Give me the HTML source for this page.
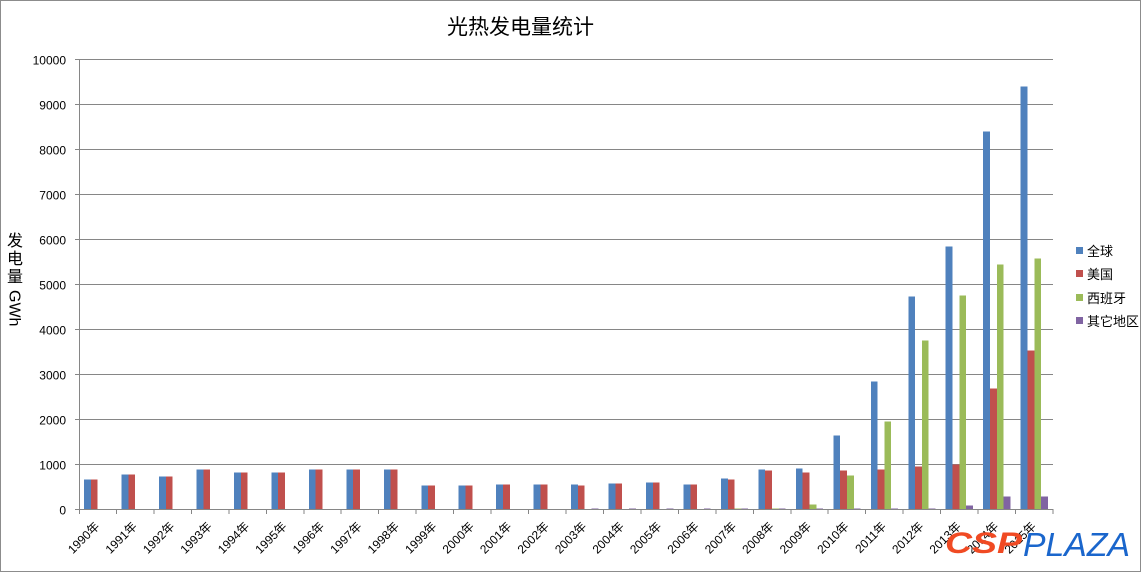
<!DOCTYPE html>
<html><head><meta charset="utf-8"><style>
html,body{margin:0;padding:0;background:#fff;}
svg{display:block;}
text{font-family:"Liberation Sans","Noto Sans CJK SC",sans-serif;fill:#000;}
</style></head><body>
<svg width="1142" height="573" viewBox="0 0 1142 573" xmlns="http://www.w3.org/2000/svg">
<rect x="0" y="0" width="1142" height="573" fill="#fff"/>
<rect x="0.5" y="0.5" width="1140" height="571" fill="none" stroke="#8c8c8c" stroke-width="1"/>
<text x="520.5" y="34" text-anchor="middle" font-size="21">光热发电量统计</text>
<!-- gridlines -->
<g stroke="#868686" stroke-width="1" shape-rendering="crispEdges">
<line x1="75" y1="59.5" x2="1053" y2="59.5"/>
<line x1="75" y1="104.5" x2="1053" y2="104.5"/>
<line x1="75" y1="149.5" x2="1053" y2="149.5"/>
<line x1="75" y1="194.5" x2="1053" y2="194.5"/>
<line x1="75" y1="239.5" x2="1053" y2="239.5"/>
<line x1="75" y1="284.5" x2="1053" y2="284.5"/>
<line x1="75" y1="329.5" x2="1053" y2="329.5"/>
<line x1="75" y1="374.5" x2="1053" y2="374.5"/>
<line x1="75" y1="419.5" x2="1053" y2="419.5"/>
<line x1="75" y1="464.5" x2="1053" y2="464.5"/>
</g>
<!-- bars -->
<g transform="translate(79,509.5) scale(1,-0.045)" shape-rendering="crispEdges">
<g transform="translate(0,0)"><rect x="5.11" y="0" width="6.81" height="667" fill="#4F81BD"/><rect x="11.92" y="0" width="6.81" height="667" fill="#C0504D"/></g>
<g transform="translate(37.4615,0)"><rect x="5.11" y="0" width="6.81" height="778" fill="#4F81BD"/><rect x="11.92" y="0" width="6.81" height="778" fill="#C0504D"/></g>
<g transform="translate(74.923,0)"><rect x="5.11" y="0" width="6.81" height="733" fill="#4F81BD"/><rect x="11.92" y="0" width="6.81" height="733" fill="#C0504D"/></g>
<g transform="translate(112.385,0)"><rect x="5.11" y="0" width="6.81" height="889" fill="#4F81BD"/><rect x="11.92" y="0" width="6.81" height="889" fill="#C0504D"/></g>
<g transform="translate(149.846,0)"><rect x="5.11" y="0" width="6.81" height="822" fill="#4F81BD"/><rect x="11.92" y="0" width="6.81" height="822" fill="#C0504D"/></g>
<g transform="translate(187.308,0)"><rect x="5.11" y="0" width="6.81" height="822" fill="#4F81BD"/><rect x="11.92" y="0" width="6.81" height="822" fill="#C0504D"/></g>
<g transform="translate(224.769,0)"><rect x="5.11" y="0" width="6.81" height="889" fill="#4F81BD"/><rect x="11.92" y="0" width="6.81" height="889" fill="#C0504D"/></g>
<g transform="translate(262.231,0)"><rect x="5.11" y="0" width="6.81" height="889" fill="#4F81BD"/><rect x="11.92" y="0" width="6.81" height="889" fill="#C0504D"/></g>
<g transform="translate(299.692,0)"><rect x="5.11" y="0" width="6.81" height="889" fill="#4F81BD"/><rect x="11.92" y="0" width="6.81" height="889" fill="#C0504D"/></g>
<g transform="translate(337.154,0)"><rect x="5.11" y="0" width="6.81" height="533" fill="#4F81BD"/><rect x="11.92" y="0" width="6.81" height="533" fill="#C0504D"/></g>
<g transform="translate(374.615,0)"><rect x="5.11" y="0" width="6.81" height="533" fill="#4F81BD"/><rect x="11.92" y="0" width="6.81" height="533" fill="#C0504D"/></g>
<g transform="translate(412.077,0)"><rect x="5.11" y="0" width="6.81" height="556" fill="#4F81BD"/><rect x="11.92" y="0" width="6.81" height="556" fill="#C0504D"/></g>
<g transform="translate(449.538,0)"><rect x="5.11" y="0" width="6.81" height="556" fill="#4F81BD"/><rect x="11.92" y="0" width="6.81" height="556" fill="#C0504D"/></g>
<g transform="translate(487.0,0)"><rect x="5.11" y="0" width="6.81" height="556" fill="#4F81BD"/><rect x="11.92" y="0" width="6.81" height="533" fill="#C0504D"/><rect x="25.54" y="0" width="6.81" height="25" fill="#8064A2"/></g>
<g transform="translate(524.462,0)"><rect x="5.11" y="0" width="6.81" height="578" fill="#4F81BD"/><rect x="11.92" y="0" width="6.81" height="578" fill="#C0504D"/><rect x="25.54" y="0" width="6.81" height="25" fill="#8064A2"/></g>
<g transform="translate(561.923,0)"><rect x="5.11" y="0" width="6.81" height="600" fill="#4F81BD"/><rect x="11.92" y="0" width="6.81" height="600" fill="#C0504D"/><rect x="25.54" y="0" width="6.81" height="25" fill="#8064A2"/></g>
<g transform="translate(599.385,0)"><rect x="5.11" y="0" width="6.81" height="556" fill="#4F81BD"/><rect x="11.92" y="0" width="6.81" height="556" fill="#C0504D"/><rect x="25.54" y="0" width="6.81" height="25" fill="#8064A2"/></g>
<g transform="translate(636.846,0)"><rect x="5.11" y="0" width="6.81" height="689" fill="#4F81BD"/><rect x="11.92" y="0" width="6.81" height="667" fill="#C0504D"/><rect x="18.73" y="0" width="6.81" height="25" fill="#9BBB59"/><rect x="25.54" y="0" width="6.81" height="25" fill="#8064A2"/></g>
<g transform="translate(674.308,0)"><rect x="5.11" y="0" width="6.81" height="889" fill="#4F81BD"/><rect x="11.92" y="0" width="6.81" height="867" fill="#C0504D"/><rect x="18.73" y="0" width="6.81" height="25" fill="#9BBB59"/><rect x="25.54" y="0" width="6.81" height="25" fill="#8064A2"/></g>
<g transform="translate(711.769,0)"><rect x="5.11" y="0" width="6.81" height="911" fill="#4F81BD"/><rect x="11.92" y="0" width="6.81" height="822" fill="#C0504D"/><rect x="18.73" y="0" width="6.81" height="111" fill="#9BBB59"/><rect x="25.54" y="0" width="6.81" height="25" fill="#8064A2"/></g>
<g transform="translate(749.231,0)"><rect x="5.11" y="0" width="6.81" height="1644" fill="#4F81BD"/><rect x="11.92" y="0" width="6.81" height="867" fill="#C0504D"/><rect x="18.73" y="0" width="6.81" height="756" fill="#9BBB59"/><rect x="25.54" y="0" width="6.81" height="25" fill="#8064A2"/></g>
<g transform="translate(786.692,0)"><rect x="5.11" y="0" width="6.81" height="2844" fill="#4F81BD"/><rect x="11.92" y="0" width="6.81" height="889" fill="#C0504D"/><rect x="18.73" y="0" width="6.81" height="1956" fill="#9BBB59"/><rect x="25.54" y="0" width="6.81" height="25" fill="#8064A2"/></g>
<g transform="translate(824.154,0)"><rect x="5.11" y="0" width="6.81" height="4733" fill="#4F81BD"/><rect x="11.92" y="0" width="6.81" height="956" fill="#C0504D"/><rect x="18.73" y="0" width="6.81" height="3756" fill="#9BBB59"/><rect x="25.54" y="0" width="6.81" height="25" fill="#8064A2"/></g>
<g transform="translate(861.615,0)"><rect x="5.11" y="0" width="6.81" height="5844" fill="#4F81BD"/><rect x="11.92" y="0" width="6.81" height="1000" fill="#C0504D"/><rect x="18.73" y="0" width="6.81" height="4756" fill="#9BBB59"/><rect x="25.54" y="0" width="6.81" height="89" fill="#8064A2"/></g>
<g transform="translate(899.077,0)"><rect x="5.11" y="0" width="6.81" height="8400" fill="#4F81BD"/><rect x="11.92" y="0" width="6.81" height="2689" fill="#C0504D"/><rect x="18.73" y="0" width="6.81" height="5444" fill="#9BBB59"/><rect x="25.54" y="0" width="6.81" height="289" fill="#8064A2"/></g>
<g transform="translate(936.538,0)"><rect x="5.11" y="0" width="6.81" height="9400" fill="#4F81BD"/><rect x="11.92" y="0" width="6.81" height="3533" fill="#C0504D"/><rect x="18.73" y="0" width="6.81" height="5578" fill="#9BBB59"/><rect x="25.54" y="0" width="6.81" height="289" fill="#8064A2"/></g>
</g>
<!-- axes -->
<g stroke="#868686" stroke-width="1" shape-rendering="crispEdges" fill="none">
<line x1="79.5" y1="59" x2="79.5" y2="510"/>
<line x1="75" y1="509.5" x2="1053.5" y2="509.5"/>
<path d="M79.5 509v5M116.5 509v5M153.9 509v5M191.4 509v5M228.8 509v5M266.3 509v5M303.8 509v5M341.2 509v5M378.7 509v5M416.2 509v5M453.6 509v5M491.1 509v5M528.5 509v5M566 509v5M603.5 509v5M640.9 509v5M678.4 509v5M715.8 509v5M753.3 509v5M790.8 509v5M828.2 509v5M865.7 509v5M903.2 509v5M940.6 509v5M978.1 509v5M1015.5 509v5M1053 509v5"/>
</g>
<!-- y tick labels -->
<g font-size="12" text-anchor="end">
<text x="66" y="64.5">10000</text>
<text x="66" y="109.5">9000</text>
<text x="66" y="154.5">8000</text>
<text x="66" y="199.5">7000</text>
<text x="66" y="244.5">6000</text>
<text x="66" y="289.5">5000</text>
<text x="66" y="334.5">4000</text>
<text x="66" y="379.5">3000</text>
<text x="66" y="424.5">2000</text>
<text x="66" y="469.5">1000</text>
<text x="66" y="514.5">0</text>
</g>
<!-- y axis title -->
<g font-size="16" text-anchor="middle">
<text x="15" y="246">发</text>
<text x="15" y="264">电</text>
<text x="15" y="282">量</text>
<text transform="translate(9.5,290) rotate(90)" text-anchor="start">GWh</text>
</g>
<!-- x labels -->
<g font-size="12" text-anchor="end">
<text transform="translate(100.2,527) rotate(-45)">1990年</text>
<text transform="translate(137.7,527) rotate(-45)">1991年</text>
<text transform="translate(175.2,527) rotate(-45)">1992年</text>
<text transform="translate(212.6,527) rotate(-45)">1993年</text>
<text transform="translate(250.1,527) rotate(-45)">1994年</text>
<text transform="translate(287.5,527) rotate(-45)">1995年</text>
<text transform="translate(325.0,527) rotate(-45)">1996年</text>
<text transform="translate(362.5,527) rotate(-45)">1997年</text>
<text transform="translate(399.9,527) rotate(-45)">1998年</text>
<text transform="translate(437.4,527) rotate(-45)">1999年</text>
<text transform="translate(474.8,527) rotate(-45)">2000年</text>
<text transform="translate(512.3,527) rotate(-45)">2001年</text>
<text transform="translate(549.8,527) rotate(-45)">2002年</text>
<text transform="translate(587.2,527) rotate(-45)">2003年</text>
<text transform="translate(624.7,527) rotate(-45)">2004年</text>
<text transform="translate(662.2,527) rotate(-45)">2005年</text>
<text transform="translate(699.6,527) rotate(-45)">2006年</text>
<text transform="translate(737.1,527) rotate(-45)">2007年</text>
<text transform="translate(774.5,527) rotate(-45)">2008年</text>
<text transform="translate(812.0,527) rotate(-45)">2009年</text>
<text transform="translate(849.5,527) rotate(-45)">2010年</text>
<text transform="translate(886.9,527) rotate(-45)">2011年</text>
<text transform="translate(924.4,527) rotate(-45)">2012年</text>
<text transform="translate(961.8,527) rotate(-45)">2013年</text>
<text transform="translate(999.3,527) rotate(-45)">2014年</text>
<text transform="translate(1036.8,527) rotate(-45)">2015年</text>
</g>
<!-- legend -->
<g shape-rendering="crispEdges">
<rect x="1076" y="247" width="7" height="7" fill="#4F81BD"/>
<rect x="1076" y="270" width="7" height="7" fill="#C0504D"/>
<rect x="1076" y="294" width="7" height="7" fill="#9BBB59"/>
<rect x="1076" y="317" width="7" height="7" fill="#8064A2"/>
</g>
<g font-size="13">
<text x="1087" y="256">全球</text>
<text x="1087" y="279">美国</text>
<text x="1087" y="303">西班牙</text>
<text x="1087" y="326">其它地区</text>
</g>
<!-- logo -->
<text x="945" y="553" font-size="30" font-weight="bold" font-style="italic" fill="#F04A23" style="fill:#F04A23" textLength="77" lengthAdjust="spacingAndGlyphs">CSP</text>
<text x="1023" y="556" font-size="33" font-style="italic" fill="#1A66CC" style="fill:#1A66CC" textLength="107" lengthAdjust="spacingAndGlyphs">PLAZA</text>
</svg>
</body></html>
